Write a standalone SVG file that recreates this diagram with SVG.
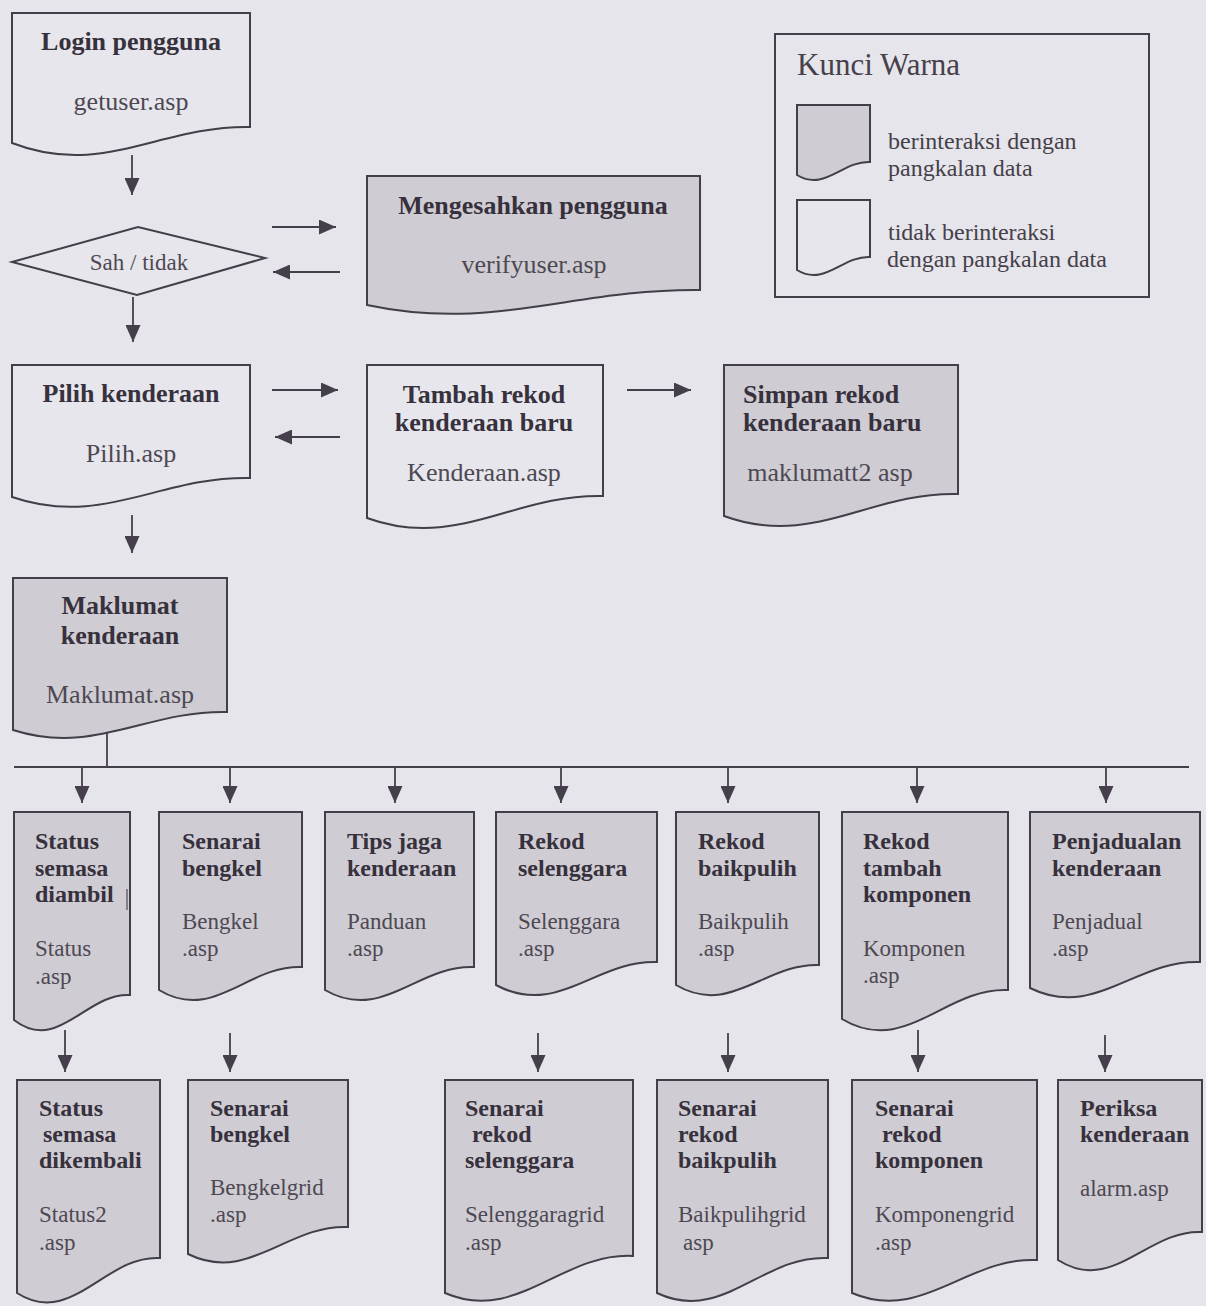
<svg xmlns="http://www.w3.org/2000/svg" width="1206" height="1306" viewBox="0 0 1206 1306">
<defs>
<marker id="ah" markerUnits="userSpaceOnUse" markerWidth="17" markerHeight="15" refX="17" refY="7.5" orient="auto">
<path d="M0,0 L17,7.5 L0,15 Z" fill="#443f4a"/>
</marker>
<style>
.doc{stroke:#433e49;stroke-width:2;stroke-linejoin:miter}
.plain{fill:#e7e6ec}
.shade{fill:#cfccd3}
text{font-family:"Liberation Serif","Times New Roman",serif}
.tb{font-size:26px;font-weight:bold;fill:#36313c}
.tr{font-size:26px;fill:#4d4852}
.b{font-size:24px;font-weight:bold;fill:#36313c}
.r{font-size:23px;fill:#4d4852}
.c{text-anchor:middle}
.leg{font-size:24px;fill:#454049}
.conn line{stroke:#443f4a;stroke-width:1.8}
</style>
</defs>
<rect width="1206" height="1306" fill="#e6e5eb"/>

<g id="connectors" class="conn">
<line x1="132" y1="155" x2="132" y2="195" marker-end="url(#ah)"/>
<line x1="272" y1="227" x2="336" y2="227" marker-end="url(#ah)"/>
<line x1="340" y1="272" x2="273" y2="272" marker-end="url(#ah)"/>
<line x1="133" y1="297" x2="133" y2="342" marker-end="url(#ah)"/>
<line x1="272" y1="390" x2="338" y2="390" marker-end="url(#ah)"/>
<line x1="340" y1="437" x2="275" y2="437" marker-end="url(#ah)"/>
<line x1="627" y1="390" x2="691" y2="390" marker-end="url(#ah)"/>
<line x1="132" y1="515" x2="132" y2="553" marker-end="url(#ah)"/>
<line x1="107" y1="733" x2="107" y2="767"/>
<line x1="14" y1="767" x2="1189" y2="767"/>
<line x1="82" y1="767" x2="82" y2="803" marker-end="url(#ah)"/>
<line x1="230" y1="767" x2="230" y2="803" marker-end="url(#ah)"/>
<line x1="395" y1="767" x2="395" y2="803" marker-end="url(#ah)"/>
<line x1="561" y1="767" x2="561" y2="803" marker-end="url(#ah)"/>
<line x1="728" y1="767" x2="728" y2="803" marker-end="url(#ah)"/>
<line x1="917" y1="767" x2="917" y2="803" marker-end="url(#ah)"/>
<line x1="1106" y1="767" x2="1106" y2="803" marker-end="url(#ah)"/>
<line x1="65" y1="1030" x2="65" y2="1072" marker-end="url(#ah)"/>
<line x1="230" y1="1033" x2="230" y2="1072" marker-end="url(#ah)"/>
<line x1="538" y1="1033" x2="538" y2="1072" marker-end="url(#ah)"/>
<line x1="728" y1="1033" x2="728" y2="1072" marker-end="url(#ah)"/>
<line x1="918" y1="1030" x2="918" y2="1072" marker-end="url(#ah)"/>
<line x1="1105" y1="1035" x2="1105" y2="1072" marker-end="url(#ah)"/>
</g>

<g id="login">
<path class="doc plain" d="M12,13 H250 V127 C159.6,125.4 102.4,178 12,143 Z"/>
<text class="tb c" x="131" y="50">Login pengguna</text>
<text class="tr c" x="131" y="110">getuser.asp</text>
</g>

<g id="sah">
<polygon class="doc plain" points="12,262 138,227 265,258 137,295"/>
<text class="c" x="139" y="270" style="font-size:23px;fill:#4d4852">Sah / tidak</text>
</g>

<g id="mengesahkan">
<path class="doc shade" d="M367,176 H700 V290 C573.5,288.5 493.5,332 367,305 Z"/>
<text class="tb c" x="533" y="214">Mengesahkan pengguna</text>
<text class="tr c" x="534" y="273">verifyuser.asp</text>
</g>

<g id="legend">
<rect x="775" y="34" width="374" height="263" fill="none" stroke="#433e49" stroke-width="2"/>
<text x="797" y="75" style="font-size:31px;fill:#454049">Kunci Warna</text>
<path class="doc shade" d="M797,105 H870 V162 C842.3,160.7 824.7,192 797,175 Z"/>
<text class="leg" x="888" y="149">berinteraksi dengan</text>
<text class="leg" x="888" y="176">pangkalan data</text>
<path class="doc plain" d="M797,200 H870 V257 C842.3,255.7 824.7,287 797,270 Z"/>
<text class="leg" x="888" y="240">tidak berinteraksi</text>
<text class="leg" x="887" y="267">dengan pangkalan data</text>
</g>

<g id="pilih">
<path class="doc plain" d="M12,365 H250 V478 C159.6,476.1 102.4,528 12,497 Z"/>
<text class="tb c" x="131" y="402">Pilih kenderaan</text>
<text class="tr c" x="131" y="462">Pilih.asp</text>
</g>

<g id="tambah">
<path class="doc plain" d="M367,365 H603 V496 C513.3,493.8 456.7,550.6 367,518 Z"/>
<text class="tb c" x="484" y="403">Tambah rekod</text>
<text class="tb c" x="484" y="431">kenderaan baru</text>
<text class="tr c" x="484" y="481">Kenderaan.asp</text>
</g>

<g id="simpan">
<path class="doc shade" d="M724,365 H958 V494 C869.1,491.8 812.9,548.6 724,516 Z"/>
<text class="tb" x="743" y="403">Simpan rekod</text>
<text class="tb" x="743" y="431">kenderaan baru</text>
<text class="tr c" x="830" y="481">maklumatt2 asp</text>
</g>

<g id="maklumat">
<path class="doc shade" d="M13,578 H227 V712 C145.7,710.2 94.3,756 13,730 Z"/>
<text class="tb c" x="120" y="614">Maklumat</text>
<text class="tb c" x="120" y="644">kenderaan</text>
<text class="tr c" x="120" y="703">Maklumat.asp</text>
</g>

<g id="status">
<path class="doc shade" d="M14,812 H130 V995 C85.9,992.5 58.1,1054 14,1020 Z"/>
<line x1="127" y1="889" x2="127" y2="910" stroke="#6a6570" stroke-width="1.5"/>
<text class="b" x="35" y="849">Status</text>
<text class="b" x="35" y="876">semasa</text>
<text class="b" x="35" y="902">diambil</text>
<text class="r" x="35" y="956">Status</text>
<text class="r" x="35" y="984">.asp</text>
</g>

<g id="bengkel">
<path class="doc shade" d="M159,812 H302 V967 C247.7,964.7 213.3,1023 159,990 Z"/>
<text class="b" x="182" y="849">Senarai</text>
<text class="b" x="182" y="876">bengkel</text>
<text class="r" x="182" y="929">Bengkel</text>
<text class="r" x="182" y="956">.asp</text>
</g>

<g id="tips">
<path class="doc shade" d="M325,812 H474 V967 C417.4,964.7 381.6,1023 325,990 Z"/>
<text class="b" x="347" y="849">Tips jaga</text>
<text class="b" x="347" y="876">kenderaan</text>
<text class="r" x="347" y="929">Panduan</text>
<text class="r" x="347" y="956">.asp</text>
</g>

<g id="selenggara">
<path class="doc shade" d="M496,812 H657 V962 C595.8,959.7 557.2,1018 496,985 Z"/>
<text class="b" x="518" y="849">Rekod</text>
<text class="b" x="518" y="876">selenggara</text>
<text class="r" x="518" y="929">Selenggara</text>
<text class="r" x="518" y="956">.asp</text>
</g>

<g id="baikpulih">
<path class="doc shade" d="M676,812 H819 V965 C764.7,963 730.3,1017 676,985 Z"/>
<text class="b" x="698" y="849">Rekod</text>
<text class="b" x="698" y="876">baikpulih</text>
<text class="r" x="698" y="929">Baikpulih</text>
<text class="r" x="698" y="956">.asp</text>
</g>

<g id="komponen">
<path class="doc shade" d="M842,812 H1008 V990 C944.9,987.1 905.1,1057 842,1019 Z"/>
<text class="b" x="863" y="849">Rekod</text>
<text class="b" x="863" y="876">tambah</text>
<text class="b" x="863" y="902">komponen</text>
<text class="r" x="863" y="956">Komponen</text>
<text class="r" x="863" y="983">.asp</text>
</g>

<g id="penjadualan">
<path class="doc shade" d="M1030,812 H1200 V962 C1135.4,959.4 1094.6,1020 1030,988 Z"/>
<text class="b" x="1052" y="849">Penjadualan</text>
<text class="b" x="1052" y="876">kenderaan</text>
<text class="r" x="1052" y="929">Penjadual</text>
<text class="r" x="1052" y="956">.asp</text>
</g>

<g id="status2">
<path class="doc shade" d="M17,1080 H160 V1258 C105.7,1254.5 71.3,1328 17,1293 Z"/>
<text class="b" x="39" y="1116">Status</text>
<text class="b" x="43" y="1142">semasa</text>
<text class="b" x="39" y="1168">dikembali</text>
<text class="r" x="39" y="1222">Status2</text>
<text class="r" x="39" y="1250">.asp</text>
</g>

<g id="bengkel2">
<path class="doc shade" d="M188,1080 H348 V1227 C287.2,1224.3 248.8,1284 188,1254 Z"/>
<text class="b" x="210" y="1116">Senarai</text>
<text class="b" x="210" y="1142">bengkel</text>
<text class="r" x="210" y="1195">Bengkelgrid</text>
<text class="r" x="210" y="1222">.asp</text>
</g>

<g id="selenggara2">
<path class="doc shade" d="M445,1080 H633 V1256 C561.6,1252.3 516.4,1324 445,1293 Z"/>
<text class="b" x="465" y="1116">Senarai</text>
<text class="b" x="472" y="1142">rekod</text>
<text class="b" x="465" y="1168">selenggara</text>
<text class="r" x="465" y="1222">Selenggaragrid</text>
<text class="r" x="465" y="1250">.asp</text>
</g>

<g id="baikpulih2">
<path class="doc shade" d="M657,1080 H828 V1258 C763,1254.5 722,1324 657,1293 Z"/>
<text class="b" x="678" y="1116">Senarai</text>
<text class="b" x="678" y="1142">rekod</text>
<text class="b" x="678" y="1168">baikpulih</text>
<text class="r" x="678" y="1222">Baikpulihgrid</text>
<text class="r" x="683" y="1250">asp</text>
</g>

<g id="komponen2">
<path class="doc shade" d="M852,1080 H1037 V1260 C966.7,1256.7 922.3,1323 852,1293 Z"/>
<text class="b" x="875" y="1116">Senarai</text>
<text class="b" x="882" y="1142">rekod</text>
<text class="b" x="875" y="1168">komponen</text>
<text class="r" x="875" y="1222">Komponengrid</text>
<text class="r" x="875" y="1250">.asp</text>
</g>

<g id="periksa">
<path class="doc shade" d="M1058,1080 H1202 V1232 C1147.3,1229.2 1112.7,1295 1058,1260 Z"/>
<text class="b" x="1080" y="1116">Periksa</text>
<text class="b" x="1080" y="1142">kenderaan</text>
<text class="r" x="1080" y="1196">alarm.asp</text>
</g>
</svg>
